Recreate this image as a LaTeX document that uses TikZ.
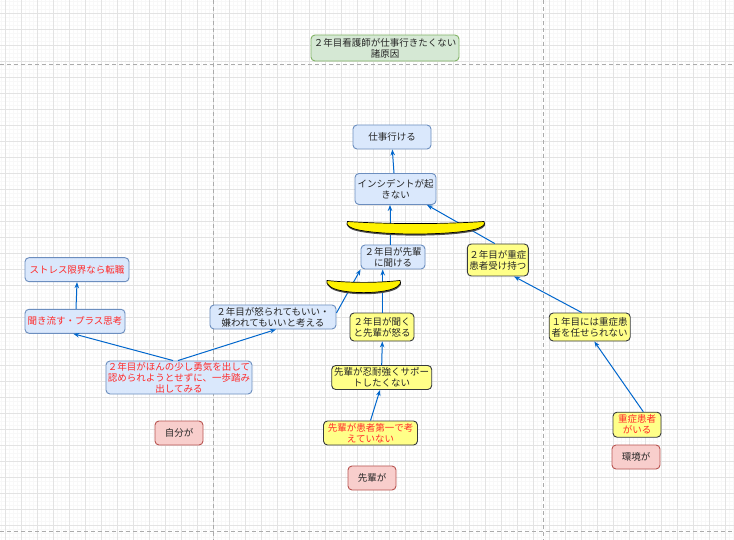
\documentclass[tikz,border=0pt]{standalone}
\usepackage{fontspec}
\setmainfont{Noto Sans CJK JP}
\usetikzlibrary{arrows.meta,calc}
\definecolor{bluefill}{HTML}{DAE8FC}
\definecolor{blueline}{HTML}{6C8EBF}
\definecolor{greenfill}{HTML}{D5E8D4}
\definecolor{greenline}{HTML}{82B366}
\definecolor{yelfill}{HTML}{FFFF88}
\definecolor{yelline}{HTML}{36393D}
\definecolor{redfill}{HTML}{F8CECC}
\definecolor{redline}{HTML}{B85450}
\definecolor{arrowc}{HTML}{0066CC}
\definecolor{txtred}{HTML}{FF2A2A}
\definecolor{gridminor}{HTML}{F8F8F8}
\definecolor{gridmajor}{HTML}{E3E3E3}
\definecolor{dashc}{HTML}{ABABAB}
\begin{document}
\begin{tikzpicture}[x=1pt,y=-1pt,
  box/.style={rectangle, rounded corners=4pt, line width=0.9pt, inner sep=0pt, align=center,
    font=\fontsize{9.5}{11}\selectfont, text=black!85},
  bluebox/.style={box, fill=bluefill, draw=blueline},
  greenbox/.style={box, fill=greenfill, draw=greenline},
  yelbox/.style={box, fill=yelfill, draw=yelline},
  redbox/.style={box, fill=redfill, draw=redline},
  redtext/.style={text=txtred},
  arr/.style={draw=arrowc, line width=1pt, -{Stealth[length=6pt,width=4.5pt]}},
  banana/.style={fill=yellow, draw=black, line width=0.7pt},
  bananashadow/.style={fill=black!70},
  gridmin/.style={draw=gridminor, line width=0.4pt},
  gridmaj/.style={draw=gridmajor, line width=0.8pt},
  divider/.style={draw=dashc, line width=0.8pt, dash pattern=on 4pt off 3pt}
]
\useasboundingbox (0,0) rectangle (734,540);
\fill[white] (0,0) rectangle (734,540);
% grid
\foreach \i in {0,...,183} \draw[gridmin] ({1.3+4*\i},0) -- ({1.3+4*\i},540);
\foreach \i in {0,...,134} \draw[gridmin] (0,{1.3+4*\i}) -- (734,{1.3+4*\i});
\foreach \i in {0,...,45} \draw[gridmaj] ({5.3+16*\i},0) -- ({5.3+16*\i},540);
\foreach \i in {0,...,32} \draw[gridmaj] (0,{13.3+16*\i}) -- (734,{13.3+16*\i});
% dividers
\draw[divider] (0,64.3) -- (734,64.3);
\draw[divider] (0,531.5) -- (734,531.5);
\draw[divider] (213.3,0) -- (213.3,540);
\draw[divider] (543.3,0) -- (543.3,540);

% nodes
\node[greenbox, minimum width=148, minimum height=26] (title) at (385,48) {２年目看護師が仕事行きたくない\\諸原因};
\node[bluebox, minimum width=78, minimum height=24] (shigoto) at (392,137) {仕事行ける};
\node[bluebox, minimum width=81, minimum height=31] (insid) at (395.5,189) {インシデントが起\\きない};
\node[bluebox, minimum width=64, minimum height=24] (kikeru) at (393,257) {２年目が先輩\\に聞ける};
\node[yelbox, minimum width=61, minimum height=32] (juusho) at (497.8,260) {２年目が重症\\患者受け持つ};
\node[bluebox, minimum width=126, minimum height=24] (okorare) at (273,317) {２年目が怒られてもいい・\\嫌われてもいいと考える};
\node[yelbox, minimum width=64, minimum height=28] (okoru) at (382,327) {２年目が聞く\\と先輩が怒る};
\node[yelbox, minimum width=100, minimum height=24] (ninto) at (381.7,377.5) {先輩が忍耐強くサポー\\トしたくない};
\node[yelbox, minimum width=94, minimum height=24, redtext] (kanja) at (370.5,433) {先輩が患者第一で考\\えていない};
\node[redbox, minimum width=48, minimum height=24] (senpai) at (372,478) {先輩が};
\node[bluebox, minimum width=104, minimum height=24, redtext] (stress) at (77,269.7) {ストレス限界なら転職};
\node[bluebox, minimum width=100, minimum height=24, redtext] (kiki) at (75,321.3) {聞き流す・プラス思考};
\node[bluebox, minimum width=146, minimum height=33, redtext] (yuki) at (179,377.5) {２年目がほんの少し勇気を出して\\認められようとせずに、一歩踏み\\出してみる};
\node[redbox, minimum width=48, minimum height=24] (jibun) at (179,433) {自分が};
\node[yelbox, minimum width=81, minimum height=28] (ichinen) at (589.7,327) {１年目には重症患\\者を任せられない};
\node[yelbox, minimum width=48, minimum height=25, redtext] (gairu) at (637,424.7) {重症患者\\がいる};
\node[redbox, minimum width=48, minimum height=24] (kankyo) at (636,457) {環境が};

% connectors
\draw[arr] ([xshift=-1.5pt]insid.north) -- ([xshift=0.3pt]shigoto.south);
\draw[arr] ([xshift=-3pt]kikeru.north) -- ([xshift=-5.5pt]insid.south);
\draw[arr] ([xshift=-3pt]juusho.north) -- ([xshift=31.5pt]insid.south);
\draw[arr] ([xshift=0.7pt]okoru.north) -- ([xshift=-10.3pt]kikeru.south);
\draw[arr] ([yshift=4pt]okorare.east) -- (kikeru.south west);
\draw[arr] (ninto.north) -- ([xshift=0.3pt]okoru.south);
\draw[arr] (kanja.north) -- ([xshift=-1.7pt]ninto.south);
\draw[arr] ([xshift=1pt]kiki.north) -- (stress.south);
\draw[arr] ([xshift=-6pt]yuki.north) -- ([xshift=-1.7pt]kiki.south);
\draw[arr] ([xshift=-1pt]yuki.north) -- ([xshift=3pt]okorare.south);
\draw[arr] ([xshift=-8pt]ichinen.north) -- ([xshift=16.2pt]juusho.south);
\draw[arr] ([xshift=6.3pt]gairu.north) -- ([xshift=4.6pt]ichinen.south);

% AND-shapes (bananas)
\fill[bananashadow, shift={(0.4pt,-1.6pt)}]
  (347.5,221.5) .. controls (390,224.3) and (441,224.3) .. (484,221.5)
  .. controls (485,224) .. (482,226.5)
  .. controls (468,236.5) and (362,236.5) .. (349,226.5)
  .. controls (346.5,224) .. cycle;
\draw[banana]
  (347.5,221.5) .. controls (390,224.3) and (441,224.3) .. (484,221.5)
  .. controls (485,224) .. (482,226.5)
  .. controls (468,236.5) and (362,236.5) .. (349,226.5)
  .. controls (346.5,224) .. cycle;
\fill[bananashadow, shift={(0.4pt,-1.6pt)}]
  (327,280.5) .. controls (352,283) and (376,283) .. (400,280.5)
  .. controls (401,283) .. (398.5,285.5)
  .. controls (390,295) and (337,295) .. (329,285.5)
  .. controls (326.5,283) .. cycle;
\draw[banana]
  (327,280.5) .. controls (352,283) and (376,283) .. (400,280.5)
  .. controls (401,283) .. (398.5,285.5)
  .. controls (390,295) and (337,295) .. (329,285.5)
  .. controls (326.5,283) .. cycle;
\end{tikzpicture}
\end{document}
